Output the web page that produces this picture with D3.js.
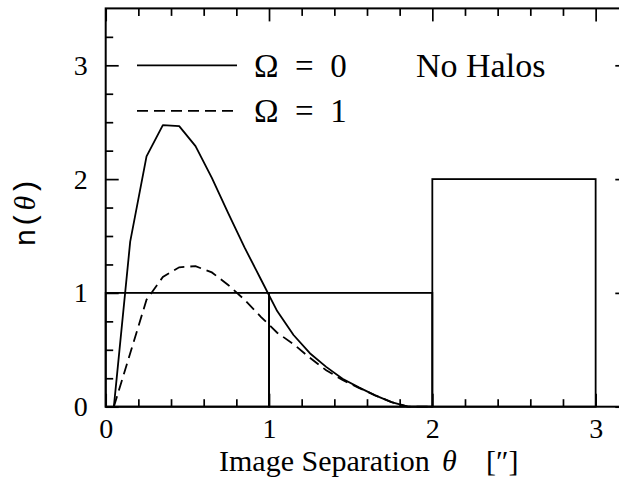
<!DOCTYPE html>
<html>
<head>
<meta charset="utf-8">
<script src="https://cdn.jsdelivr.net/npm/d3@7"></script>
<style>
  html, body { margin: 0; padding: 0; background: #fff; }
  svg { display: block; }
</style>
</head>
<body>
<svg id="chart" width="619" height="478"></svg>
<script>
// Image separations (arcsec) at which the model curves are sampled
const theta = [0.05, 0.15, 0.25, 0.35, 0.45, 0.55, 0.65, 0.75, 0.85, 0.95,
               1.05, 1.15, 1.25, 1.35, 1.45, 1.55, 1.65, 1.75, 1.85, 1.95, 2.0];
// Predicted separation distribution, Omega = 0
const nOmega0 = [0, 1.45, 2.20, 2.475, 2.465, 2.29, 2.01, 1.70, 1.40, 1.12,
                 0.84, 0.63, 0.47, 0.35, 0.245, 0.17, 0.10, 0.04, 0.0, 0.0, 0.0];
// Predicted separation distribution, Omega = 1
const nOmega1 = [0, 0.47, 0.94, 1.14, 1.225, 1.235, 1.18, 1.07, 0.94, 0.79,
                 0.65, 0.55, 0.43, 0.32, 0.235, 0.165, 0.10, 0.04, 0.0, 0.0, 0.0];
// Observed lenses histogram
const binEdges = [0, 1, 2, 3];
const binCounts = [1, 1, 2];
// Axis ticks
const xMajor = [0, 1, 2, 3];
const xMinor = [0.2, 0.4, 0.6, 0.8, 1.2, 1.4, 1.6, 1.8, 2.2, 2.4, 2.6, 2.8, 3.2];
const yMajor = [0, 1, 2, 3];
const yMinor = [0.25, 0.5, 0.75, 1.25, 1.5, 1.75, 2.25, 2.5, 2.75, 3.25];
// Legend entries
const legendLabels = ["Ω = 0", "Ω = 1"];
const annotation = "No Halos";

const svg = d3.select("#chart");
const x = d3.scaleLinear().domain([0, 3.2]).range([105.7, 628.3]);
const y = d3.scaleLinear().domain([0, 3.5]).range([406.7, 8.4]);
const major = 13, minor = 7.5;
const serif = "Liberation Serif";
const mono = "Liberation Mono";
const lw = 1.8;

// Frame
svg.append("rect")
  .attr("x", x(0)).attr("y", y(3.5))
  .attr("width", x(3.2) - x(0)).attr("height", y(0) - y(3.5))
  .attr("fill", "none").attr("stroke", "#000").attr("stroke-width", 2);

function axis(gen, transform, values, size, labels) {
  const g = svg.append("g").attr("transform", transform)
    .call(gen.tickValues(values).tickSize(-size).tickPadding(size + 10)
      .tickFormat(labels ? d3.format("d") : ""));
  g.attr("font-family", null).attr("font-size", null);
  g.select(".domain").remove();
  g.selectAll(".tick line").attr("stroke", "#000").attr("stroke-width", 1.7);
  g.selectAll(".tick text").style("font-family", serif).style("font-size", "28px").attr("fill", "#000");
  return g;
}

// Bottom axis with labels
const xb = axis(d3.axisBottom(x), `translate(0,${y(0)})`, xMajor, major, true);
xb.selectAll(".tick text").attr("dy", "0.55em")
  .attr("transform", `translate(0,${-major - 10 + 16})`);
axis(d3.axisBottom(x), `translate(0,${y(0)})`, xMinor, minor, false);
// Top axis
axis(d3.axisTop(x), `translate(0,${y(3.5)})`, xMajor, major, false);
axis(d3.axisTop(x), `translate(0,${y(3.5)})`, xMinor, minor, false);
// Left axis with labels
const yl = axis(d3.axisLeft(y), `translate(${x(0)},0)`, yMajor, major, true);
yl.selectAll(".tick text").attr("transform", `translate(${major + 10 - 18},0)`);
axis(d3.axisLeft(y), `translate(${x(0)},0)`, yMinor, minor, false);
// Right axis
axis(d3.axisRight(y), `translate(${x(3.2)},0)`, yMajor, major, false);
axis(d3.axisRight(y), `translate(${x(3.2)},0)`, yMinor, minor, false);

// Histogram of observed separations
svg.append("g").selectAll("rect")
  .data(binCounts)
  .join("rect")
  .attr("x", (d, i) => x(binEdges[i]))
  .attr("y", d => y(d))
  .attr("width", (d, i) => x(binEdges[i + 1]) - x(binEdges[i]))
  .attr("height", d => y(0) - y(d))
  .attr("fill", "none").attr("stroke", "#000").attr("stroke-width", lw);

// Model curves
const line = d3.line().x(d => x(d[0])).y(d => y(d[1]));
svg.append("path")
  .datum(theta.map((t, i) => [t, nOmega0[i]]))
  .attr("d", line).attr("fill", "none").attr("stroke", "#000")
  .attr("stroke-width", lw).attr("stroke-linejoin", "round");
svg.append("path")
  .datum(theta.map((t, i) => [t, nOmega1[i]]))
  .attr("d", line).attr("fill", "none").attr("stroke", "#000")
  .attr("stroke-width", lw).attr("stroke-dasharray", "11,6");

// Legend
const legY = [y(3), y(2.6)];
const legend = svg.append("g");
legend.selectAll("line").data(legendLabels).join("line")
  .attr("x1", 137).attr("x2", 237)
  .attr("y1", (d, i) => legY[i]).attr("y2", (d, i) => legY[i])
  .attr("stroke", "#000").attr("stroke-width", lw)
  .attr("stroke-dasharray", (d, i) => i ? "11,6" : null);
legend.selectAll("text").data(legendLabels).join("text")
  .attr("x", 254).attr("y", (d, i) => legY[i] + 11.5)
  .style("font-family", serif).style("font-size", "33px")
  .style("white-space", "pre")
  .text(d => d.replace(/ /g, "\u2002"));
svg.append("text")
  .attr("x", 416).attr("y", y(3) + 12)
  .style("font-family", serif).style("font-size", "34px")
  .text(annotation);

// Axis titles
const xt = svg.append("text")
  .attr("x", 219).attr("y", 471)
  .style("font-family", serif).style("font-size", "30px");
xt.append("tspan").text("Image Separation");
xt.append("tspan").attr("x", 442).style("font-style", "italic").text("θ");
xt.append("tspan").attr("x", 486).text("[″]");

const yt = svg.append("text")
  .attr("transform", `translate(35,212) rotate(-90)`)
  .attr("text-anchor", "middle")
  .style("font-family", mono).style("font-size", "30px");
yt.append("tspan").text("n(");
yt.append("tspan").style("font-family", serif).style("font-style", "italic").text("θ");
yt.append("tspan").text(")");
</script>
</body>
</html>
